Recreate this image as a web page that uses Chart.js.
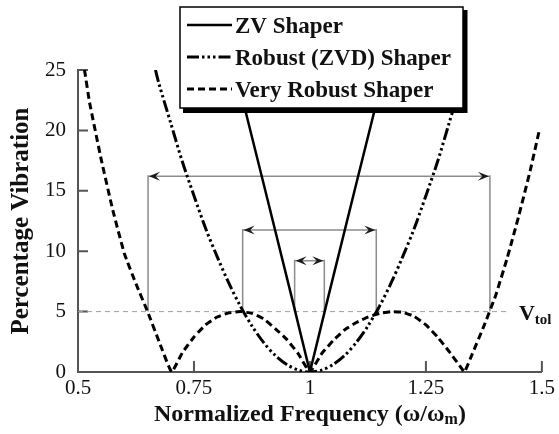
<!DOCTYPE html>
<html>
<head>
<meta charset="utf-8">
<script src="https://cdn.jsdelivr.net/npm/chart.js@4.4.1/dist/chart.umd.min.js"></script>
<style>
  html, body { margin: 0; padding: 0; background: #fff; }
</style>
</head>
<body>
<canvas id="c" width="559" height="434"></canvas>
<script>
// residual vibration (%) vs normalized frequency for each shaper
var zvFreq  = [0.839, 0.9, 0.96, 1.0, 1.04, 1.1, 1.161];
var zvVib   = [25, 15.6, 6.3, 0, 6.3, 15.6, 25];

var zvdFreq = [0.667, 0.675, 0.7, 0.725, 0.75, 0.775, 0.8, 0.825, 0.85, 0.875, 0.9, 0.925, 0.95, 0.975, 1.0,
               1.025, 1.05, 1.075, 1.1, 1.125, 1.15, 1.175, 1.2, 1.225, 1.25, 1.275, 1.3, 1.325, 1.333];
var zvdVib  = [25, 23.8, 20.6, 17.4, 14.6, 11.9, 9.55, 7.37, 5.45, 3.81, 2.45, 1.38, 0.62, 0.15, 0,
               0.15, 0.62, 1.38, 2.45, 3.81, 5.45, 7.37, 9.55, 11.9, 14.6, 17.4, 20.6, 23.8, 25];

var vrFreq  = [0.514, 0.525, 0.55, 0.575, 0.6, 0.625, 0.65, 0.675, 0.702,
               0.725, 0.75, 0.775, 0.8, 0.825, 0.85, 0.875, 0.9, 0.925, 0.95, 0.975, 1.0,
               1.025, 1.05, 1.075, 1.1, 1.125, 1.15, 1.175, 1.2, 1.225, 1.25, 1.275, 1.3, 1.325,
               1.333, 1.35, 1.375, 1.4, 1.425, 1.45, 1.475, 1.495];
var vrVib   = [25, 22.3, 17.6, 13.4, 9.8, 7.3, 5.0, 2.5, 0,
               1.6, 2.9, 3.9, 4.55, 4.9, 5.0, 4.85, 4.4, 3.6, 2.7, 1.5, 0,
               1.5, 2.6, 3.5, 4.1, 4.55, 4.85, 5.0, 4.95, 4.6, 3.9, 2.9, 1.7, 0.4,
               0, 1.5, 3.8, 6.3, 9.4, 12.9, 16.7, 20.1];

var seriesNames = ['ZV Shaper', 'Robust (ZVD) Shaper', 'Very Robust Shaper'];

// tolerance level and the insensitivity bands marked with arrows
var vTol      = 5;
var bandLow   = [0.651, 0.855, 0.967];
var bandHigh  = [1.388, 1.143, 1.031];
var bandLevel = [16.2, 11.75, 9.2];

var xTickLabels = ['0.5', '0.75', '1', '1.25', '1.5'];
var yTickLabels = ['0', '5', '10', '15', '20', '25'];

var SERIF = "'Liberation Serif', 'Times New Roman', serif";

function pts(xs, ys) {
	return xs.map(function(x, i) { return { x: x, y: ys[i] }; });
}

function arrowHead(ctx, tipX, y, dir) {
	var L = 11, W = 4.5;
	ctx.beginPath();
	ctx.moveTo(tipX, y);
	ctx.lineTo(tipX - dir * L, y - W);
	ctx.lineTo(tipX - dir * L * 0.6, y);
	ctx.lineTo(tipX - dir * L, y + W);
	ctx.closePath();
	ctx.fill();
}

// text with sub-scripted parts, drawn one run after the other
function drawRuns(ctx, runs, x, y, align) {
	var total = 0;
	runs.forEach(function(r) { ctx.font = r.font; r.w = ctx.measureText(r.text).width; total += r.w; });
	var cx = (align === 'center') ? x - total / 2 : x;
	ctx.textAlign = 'left';
	ctx.textBaseline = 'alphabetic';
	runs.forEach(function(r) { ctx.font = r.font; ctx.fillText(r.text, cx, y + (r.dy || 0)); cx += r.w; });
}

var extras = {
	id: 'extras',
	beforeDatasetsDraw: function(chart) {
		var ctx = chart.ctx, xs = chart.scales.x, ys = chart.scales.y, area = chart.chartArea;
		ctx.save();

		// inward tick marks
		ctx.strokeStyle = '#555';
		ctx.lineWidth = 2;
		ctx.beginPath();
		[0.75, 1, 1.25, 1.5].forEach(function(v) {
			var px = xs.getPixelForValue(v);
			ctx.moveTo(px, area.bottom);
			ctx.lineTo(px, area.bottom - 11);
		});
		[5, 10, 15, 20, 25].forEach(function(v) {
			var py = ys.getPixelForValue(v);
			ctx.moveTo(area.left, py);
			ctx.lineTo(area.left + 10, py);
		});
		ctx.stroke();

		// Vtol line
		var yTol = ys.getPixelForValue(vTol);
		ctx.strokeStyle = '#a0a0a0';
		ctx.lineWidth = 1;
		ctx.setLineDash([5, 4]);
		ctx.beginPath();
		ctx.moveTo(area.left, yTol);
		ctx.lineTo(area.right - 35, yTol);
		ctx.stroke();
		ctx.setLineDash([]);

		// band arrows
		for (var i = 0; i < bandLow.length; i++) {
			var x1 = xs.getPixelForValue(bandLow[i]);
			var x2 = xs.getPixelForValue(bandHigh[i]);
			var yl = ys.getPixelForValue(bandLevel[i]);
			ctx.strokeStyle = '#8c8c8c';
			ctx.lineWidth = 1.5;
			ctx.beginPath();
			ctx.moveTo(x1, yTol); ctx.lineTo(x1, yl - 1);
			ctx.moveTo(x2, yTol); ctx.lineTo(x2, yl - 1);
			ctx.moveTo(x1, yl); ctx.lineTo(x2, yl);
			ctx.stroke();
			ctx.fillStyle = '#1a1a1a';
			arrowHead(ctx, x1 + 1, yl, -1);
			arrowHead(ctx, x2 - 1, yl, 1);
		}
		ctx.restore();
	},
	afterDraw: function(chart) {
		var ctx = chart.ctx, xs = chart.scales.x, ys = chart.scales.y, area = chart.chartArea;
		ctx.save();
		ctx.fillStyle = '#111';

		// V_tol label
		var yTol = ys.getPixelForValue(vTol);
		drawRuns(ctx, [
			{ text: 'V', font: 'bold 22px ' + SERIF },
			{ text: 'tol', font: 'bold 15px ' + SERIF, dy: 4 }
		], area.right - 23, yTol + 8, 'left');

		// x axis title
		drawRuns(ctx, [
			{ text: 'Normalized Frequency (\u03c9/\u03c9', font: 'bold 24px ' + SERIF },
			{ text: 'm', font: 'bold 16px ' + SERIF, dy: 3 },
			{ text: ')', font: 'bold 24px ' + SERIF }
		], (area.left + area.right) / 2, 421, 'center');

		// legend box with drop shadow
		var bx = 180, by = 7, bw = 283, bh = 101;
		ctx.fillStyle = '#000';
		ctx.fillRect(bx + 3, by + 3, bw + 1.5, bh + 2);
		ctx.fillStyle = '#fff';
		ctx.fillRect(bx, by, bw, bh);
		ctx.strokeStyle = '#000';
		ctx.lineWidth = 1.5;
		ctx.strokeRect(bx, by, bw, bh);

		var rows = [25, 57, 89];
		chart.data.datasets.forEach(function(ds, i) {
			ctx.strokeStyle = '#000';
			ctx.lineWidth = ds.borderWidth;
			ctx.setLineDash(ds.borderDash || []);
			ctx.beginPath();
			ctx.moveTo(187, rows[i]);
			ctx.lineTo(232, rows[i]);
			ctx.stroke();
			ctx.setLineDash([]);
			ctx.fillStyle = '#111';
			ctx.font = 'bold 23px ' + SERIF;
			ctx.textAlign = 'left';
			ctx.textBaseline = 'alphabetic';
			ctx.fillText(ds.label, 235, rows[i] + 8);
		});
		ctx.restore();
	}
};

var ctx = document.getElementById('c');
var chart = new Chart(ctx, {
	type: 'line',
	data: {
		datasets: [
			{ label: seriesNames[0], data: pts(zvFreq, zvVib), borderColor: '#000', borderWidth: 2.5, tension: 0 },
			{ label: seriesNames[1], data: pts(zvdFreq, zvdVib), borderColor: '#000', borderWidth: 3, tension: 0.3,
			  borderDash: [12, 3, 2.5, 3, 2.5, 3, 2.5, 3] },
			{ label: seriesNames[2], data: pts(vrFreq, vrVib), borderColor: '#000', borderWidth: 3, tension: 0.12,
			  borderDash: [7, 4] }
		]
	},
	options: {
		responsive: false,
		devicePixelRatio: 1,
		animation: false,
		elements: { point: { radius: 0 }, line: { borderCapStyle: 'butt' } },
		layout: { padding: { left: 0, right: 16, top: 70, bottom: 0 } },
		plugins: { legend: { display: false }, tooltip: { enabled: false } },
		scales: {
			x: {
				type: 'linear', min: 0.5, max: 1.5,
				border: { display: true, color: '#555', width: 2 },
				grid: { display: false, drawTicks: false },
				ticks: {
					stepSize: 0.25, padding: 4, maxRotation: 0, autoSkip: false, color: '#111',
					font: { family: SERIF, size: 21 },
					callback: function(v, i) { return xTickLabels[i]; }
				},
				afterFit: function(s) { s.height = 62; }
			},
			y: {
				min: 0, max: 25,
				border: { display: true, color: '#555', width: 2 },
				grid: { display: false, drawTicks: false },
				ticks: {
					stepSize: 5, padding: 12, color: '#111',
					font: { family: SERIF, size: 21 },
					callback: function(v, i) { return yTickLabels[i]; }
				},
				title: {
					display: true, text: 'Percentage Vibration', color: '#111',
					font: { family: SERIF, size: 25, weight: 'bold' },
					padding: { top: 7, bottom: 0 }
				},
				afterFit: function(s) { s.width = 78; }
			}
		}
	},
	plugins: [extras]
});
</script>
</body>
</html>
